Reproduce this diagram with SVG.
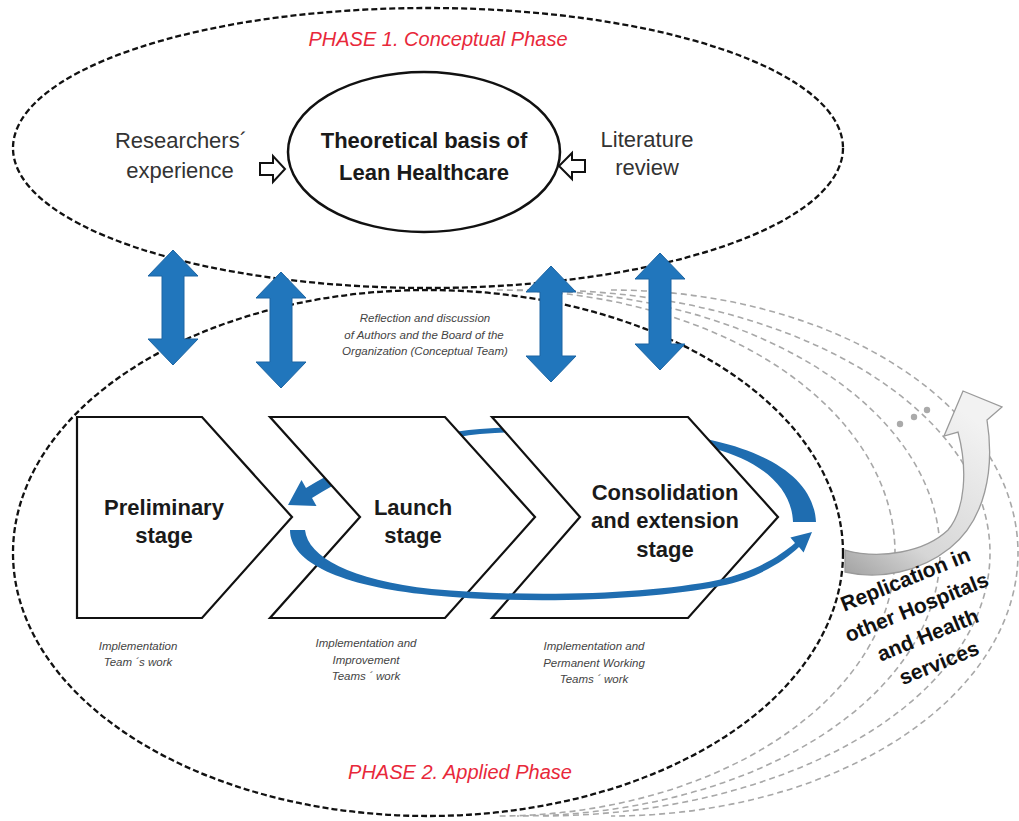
<svg xmlns="http://www.w3.org/2000/svg" width="1019" height="821" viewBox="0 0 1019 821">
<defs>
<style>
.phase{fill:none;stroke:#111;stroke-width:2.3;stroke-dasharray:6 3}
.rep{fill:none;stroke:#a8a8a8;stroke-width:1.6;stroke-dasharray:6 4}
.chev{fill:#fff;stroke:#111;stroke-width:2.2;stroke-linejoin:miter}
.dbl{fill:#2176bc;stroke:#1c65a3;stroke-width:1}
.loop{fill:#1f6db0}
.hollow{fill:#fff;stroke:#111;stroke-width:2}
.bold{font-family:"Liberation Sans",Arial,sans-serif;font-weight:bold;font-size:22px;fill:#1a1a1a;text-anchor:middle}
.side{font-family:"Liberation Sans",Arial,sans-serif;font-size:22px;fill:#333;text-anchor:middle}
.red{font-family:"Liberation Sans",Arial,sans-serif;font-style:italic;font-size:20px;fill:#e8283a;text-anchor:middle}
.note{font-family:"Liberation Sans",Arial,sans-serif;font-style:italic;font-size:11.5px;fill:#444;text-anchor:middle}
.repl{font-family:"Liberation Sans",Arial,sans-serif;font-weight:bold;font-size:21px;fill:#111;text-anchor:middle}
</style>
<linearGradient id="gray" gradientUnits="userSpaceOnUse" x1="860" y1="580" x2="975" y2="420">
<stop offset="0" stop-color="#a6a6a6"/>
<stop offset="0.3" stop-color="#d6d6d6"/>
<stop offset="1" stop-color="#f2f2f2"/>
</linearGradient>
</defs>
<rect width="1019" height="821" fill="#fff"/>

<g id="replication-rings">
<path class="rep" d="M497,290 A398,263 0 0 1 497,816"/>
<path class="rep" d="M517,290 A423,263 0 0 1 517,816"/>
<path class="rep" d="M540,290 A450,263 0 0 1 540,816"/>
<path class="rep" d="M611,290 A407,263 0 0 1 611,816"/>
</g>

<g id="phase1">
<ellipse class="phase" cx="428" cy="148" rx="415" ry="140"/>
<text class="red" x="438" y="46">PHASE 1. Conceptual Phase</text>
</g>

<g id="phase2">
<ellipse class="phase" cx="428" cy="553" rx="415" ry="263"/>
<text class="red" x="460" y="779">PHASE 2. Applied Phase</text>
</g>

<g id="theoretical-basis">
<ellipse cx="424" cy="152" rx="136" ry="80" fill="#fff" stroke="#111" stroke-width="2.5"/>
<text class="bold" x="424" y="148">Theoretical basis of</text>
<text class="bold" x="424" y="180">Lean Healthcare</text>
</g>

<g id="researchers-experience">
<text class="side" x="181" y="148">Researchers´</text>
<text class="side" x="180" y="178">experience</text>
</g>

<g id="literature-review">
<text class="side" x="647" y="147">Literature</text>
<text class="side" x="647" y="175">review</text>
</g>

<g id="connectors">
<polygon class="hollow" points="260,163 273,163 273,156 285,169 273,182 273,175 260,175"/>
<polygon class="hollow" points="585,160 572,160 572,153 559,166 572,179 572,172 585,172"/>

<path id="loop-back" class="loop" d="M816,522 C814,482 775,455 715,441 C650,426 560,423 480,429 C420,434 360,455 306,488 L301.5,480 L288,505 L316.5,506 L312,498 C365,466 420,440 480,434 C560,428 650,431 712,448 C765,462 792,490 793,522 Z"/>
</g>

<g id="preliminary-stage">
<polygon class="chev" points="77,417 202,417 292,517 202,618 77,618"/>
<text class="bold" x="164" y="515">Preliminary</text>
<text class="bold" x="164" y="543">stage</text>
</g>

<g id="launch-stage">
<polygon class="chev" points="270,417 445,417 535,517 445,618 270,618 360,517"/>
<text class="bold" x="413" y="515">Launch</text>
<text class="bold" x="413" y="543">stage</text>
</g>

<g id="consolidation-stage">
<polygon class="chev" points="492,417 688,417 778,517 688,618 492,618 580,517"/>
<text class="bold" x="665" y="500">Consolidation</text>
<text class="bold" x="665" y="528">and extension</text>
<text class="bold" x="665" y="557">stage</text>
</g>

<g id="connectors-front">
<path id="loop-front" class="loop" d="M290,530 C290,562 340,586 430,595 C530,605 650,600 720,586 C760,578 785,560 799,547 L803.6,552.5 L812,532 L790.4,537.5 L795,543 C780,556 755,572 718,580 C650,594 530,598 432,589 C350,580 308,557 305,530 Z"/>

<polygon class="dbl" points="173,250 198,276 184,276 184,339 198,339 173,365 148,339 162,339 162,276 148,276"/>
<polygon class="dbl" points="281,272 306,298 292,298 292,362 306,362 281,388 256,362 270,362 270,298 256,298"/>
<polygon class="dbl" points="551,266 576,292 562,292 562,356 576,356 551,382 526,356 540,356 540,292 526,292"/>
<polygon class="dbl" points="660,253 685,279 671,279 671,344 685,344 660,370 635,344 649,344 649,279 635,279"/>

<path d="M845,550 C880,560 925,552 948,530 C965,510 968,470 958,432 L944,436 L963,391 L1002,407 L987,420 C995,470 985,520 950,548 C920,572 880,580 845,572 Z" fill="url(#gray)" stroke="#9a9a9a" stroke-width="1.3"/>
<circle cx="900" cy="424" r="3.2" fill="#aaa"/>
<circle cx="914" cy="417" r="3.2" fill="#aaa"/>
<circle cx="927" cy="410" r="3.2" fill="#aaa"/>
</g>

<g id="reflection-label">
<text class="note" x="425" y="322">Reflection and discussion</text>
<text class="note" x="424" y="339">of Authors and the Board of the</text>
<text class="note" x="425" y="355">Organization (Conceptual Team)</text>
</g>

<g id="team-labels">
<text class="note" x="138" y="650">Implementation</text>
<text class="note" x="138" y="666">Team ´s work</text>
<text class="note" x="366" y="647">Implementation and</text>
<text class="note" x="366" y="664">Improvement</text>
<text class="note" x="366" y="680">Teams ´ work</text>
<text class="note" x="594" y="650">Implementation and</text>
<text class="note" x="594" y="667">Permanent Working</text>
<text class="note" x="594" y="683">Teams ´ work</text>
</g>

<g id="replication-label" transform="translate(908,586) rotate(-22)">
<text class="repl" x="0" y="0">Replication in</text>
<text class="repl" x="0" y="30">other Hospitals</text>
<text class="repl" x="0" y="60">and Health</text>
<text class="repl" x="0" y="90">services</text>
</g>
</svg>
